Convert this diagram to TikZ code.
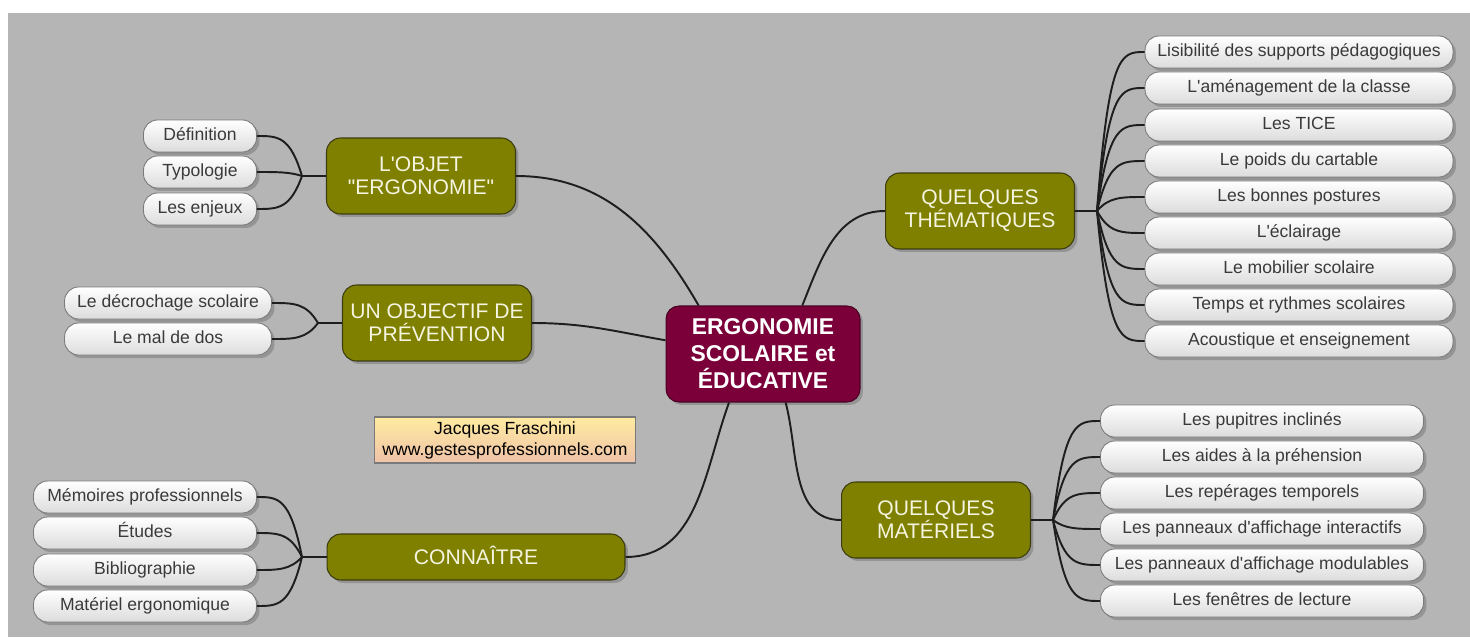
\documentclass[tikz,border=0pt]{standalone}
\usepackage{fontspec}
\setmainfont{Liberation Sans}[Ligatures=TeXOff]
\usepackage{tikz}
\usetikzlibrary{calc,shadows}

\definecolor{bggray}{HTML}{B5B5B5}
\definecolor{maroon}{HTML}{7B003A}
\definecolor{maroonedge}{HTML}{4A0022}
\definecolor{olive}{HTML}{808000}
\definecolor{oliveedge}{HTML}{3C3C10}
\definecolor{cream}{HTML}{F4F4E0}
\definecolor{leafgray}{HTML}{DCDCDC}
\definecolor{leafedge}{HTML}{7A7A7A}
\definecolor{leaftext}{HTML}{3A3A3A}
\definecolor{linkgray}{HTML}{1E1E1E}
\definecolor{notetop}{HTML}{FFEBA0}
\definecolor{notebottom}{HTML}{EFC2A8}

\begin{document}
\begin{tikzpicture}[x=0.02cm,y=0.02cm]
			\tikzstyle{boxshadow} = [drop shadow={shadow xshift=0.06cm,shadow yshift=-0.06cm,fill=black,opacity=0.18}]
			\tikzstyle{mainbox}  = [rectangle,rounded corners=0.26cm,draw=maroonedge,fill=maroon,text=white,line width=0.6pt,
			                        font=\fontsize{13}{15.4}\selectfont\bfseries,align=center,inner sep=0pt,
			                        minimum width=3.88cm,minimum height=1.92cm,boxshadow]
			\tikzstyle{topicbox} = [rectangle,rounded corners=0.28cm,draw=oliveedge,fill=olive,text=cream,line width=0.6pt,
			                        font=\fontsize{12}{13.2}\selectfont,align=center,inner sep=0pt,
			                        minimum width=3.78cm,minimum height=1.52cm,boxshadow]
			\tikzstyle{leafbox}  = [rectangle,rounded corners=0.28cm,draw=leafedge,top color=white,bottom color=leafgray,
			                        text=leaftext,line width=0.5pt,font=\fontsize{10}{12}\selectfont,
			                        text height=7.4pt,text depth=2.2pt,
			                        inner sep=0pt,minimum height=0.64cm,boxshadow]
			\tikzstyle{notebox}  = [rectangle,draw=leafedge,top color=notetop,bottom color=notebottom,line width=0.6pt,
			                        font=\fontsize{10}{12}\selectfont,align=center,inner sep=0pt,
			                        minimum width=5.22cm,minimum height=0.92cm]
			\tikzstyle{link}     = [draw=linkgray,line width=1.1pt]
			\tikzstyle{twigR}    = [link,to path={.. controls ($(\tikztostart |- \tikztotarget)+(12,0)$) and ($(\tikztostart |- \tikztotarget)+(24,0)$) .. (\tikztotarget) \tikztonodes}]
			\tikzstyle{twigL}    = [link,to path={.. controls ($(\tikztostart |- \tikztotarget)+(-12,0)$) and ($(\tikztostart |- \tikztotarget)+(-24,0)$) .. (\tikztotarget) \tikztonodes}]
			
			% background
			\useasboundingbox (0,0) rectangle (1470,637);
			\fill[white] (0,0) rectangle (1470,637);
			\fill[bggray] (8,0) rectangle (1470,624);
			
			\node[mainbox] (erg) at (763,283) {ERGONOMIE\\SCOLAIRE et\\ÉDUCATIVE};
			
			\node[topicbox] (objet) at (421,461) {L'OBJET\\"ERGONOMIE"};
			\node[topicbox] (prev) at (437,314) {UN OBJECTIF DE\\PRÉVENTION};
			\node[topicbox,minimum width=5.96cm,minimum height=0.92cm,text height=8.6pt,text depth=0pt] (conn) at (476,80) {CONNAÎTRE};
			\node[topicbox] (them) at (980,426) {QUELQUES\\THÉMATIQUES};
			\node[topicbox] (mat) at (936,117) {QUELQUES\\MATÉRIELS};
			
			\node[notebox] (credit) at (505,197) {Jacques Fraschini\\www.gestesprofessionnels.com};
			
			\coordinate (jobjet) at (302,461);
			\coordinate (jprev) at (318,314);
			\coordinate (jconn) at (302,80);
			\coordinate (jthem) at (1097,426);
			\coordinate (jmat) at (1053,117);
			
			\node[leafbox,minimum width=2.26cm] (def) at (200,501) {Définition};
			\node[leafbox,minimum width=2.26cm] (typo) at (200,465) {Typologie};
			\node[leafbox,minimum width=2.26cm] (enj) at (200,428) {Les enjeux};
			
			\node[leafbox,minimum width=4.14cm] (decr) at (168,334) {Le décrochage scolaire};
			\node[leafbox,minimum width=4.14cm] (dos) at (168,298) {Le mal de dos};
			
			\node[leafbox,minimum width=4.46cm] (mem) at (145,140) {Mémoires professionnels};
			\node[leafbox,minimum width=4.46cm] (etu) at (145,104) {Études};
			\node[leafbox,minimum width=4.46cm] (bib) at (145,67) {Bibliographie};
			\node[leafbox,minimum width=4.46cm] (matos) at (145,31) {Matériel ergonomique};
			
			\node[leafbox,minimum width=6.16cm] (them1) at (1299,585) {Lisibilité des supports pédagogiques};
			\node[leafbox,minimum width=6.16cm] (them2) at (1299,549) {L'aménagement de la classe};
			\node[leafbox,minimum width=6.16cm] (them3) at (1299,512) {Les TICE};
			\node[leafbox,minimum width=6.16cm] (them4) at (1299,476) {Le poids du cartable};
			\node[leafbox,minimum width=6.16cm] (them5) at (1299,440) {Les bonnes postures};
			\node[leafbox,minimum width=6.16cm] (them6) at (1299,404) {L'éclairage};
			\node[leafbox,minimum width=6.16cm] (them7) at (1299,368) {Le mobilier scolaire};
			\node[leafbox,minimum width=6.16cm] (them8) at (1299,332) {Temps et rythmes scolaires};
			\node[leafbox,minimum width=6.16cm] (them9) at (1299,296) {Acoustique et enseignement};
			
			\node[leafbox,minimum width=6.46cm] (mat1) at (1262,216) {Les pupitres inclinés};
			\node[leafbox,minimum width=6.46cm] (mat2) at (1262,180) {Les aides à la préhension};
			\node[leafbox,minimum width=6.46cm] (mat3) at (1262,144) {Les repérages temporels};
			\node[leafbox,minimum width=6.46cm] (mat4) at (1262,108) {Les panneaux d'affichage interactifs};
			\node[leafbox,minimum width=6.46cm] (mat5) at (1262,72) {Les panneaux d'affichage modulables};
			\node[leafbox,minimum width=6.46cm] (mat6) at (1262,36) {Les fenêtres de lecture};
			
			% from the centre
			\path (erg.143) edge[link,out=120,in=0] (objet.east);
			\path (erg.172) edge[link,out=170,in=0] (prev.east);
			\path (erg.235) edge[link,out=250,in=0] (conn.east);
			\path (erg.51) edge[link,out=68,in=180] (them.west);
			\path (erg.295) edge[link,out=285,in=180] (mat.west);
			
			% to the leaves
			\path (objet) edge[link] (jobjet);
			\path (jobjet) edge[twigL] (def);
			\path (jobjet) edge[twigL] (typo);
			\path (jobjet) edge[twigL] (enj);
			
			\path (prev) edge[link] (jprev);
			\path (jprev) edge[twigL] (decr);
			\path (jprev) edge[twigL] (dos);
			
			\path (conn) edge[link] (jconn);
			\path (jconn) edge[twigL] (mem);
			\path (jconn) edge[twigL] (etu);
			\path (jconn) edge[twigL] (bib);
			\path (jconn) edge[twigL] (matos);
			
			\path (them) edge[link] (jthem);
			\path (jthem) edge[twigR] (them1);
			\path (jthem) edge[twigR] (them2);
			\path (jthem) edge[twigR] (them3);
			\path (jthem) edge[twigR] (them4);
			\path (jthem) edge[twigR] (them5);
			\path (jthem) edge[twigR] (them6);
			\path (jthem) edge[twigR] (them7);
			\path (jthem) edge[twigR] (them8);
			\path (jthem) edge[twigR] (them9);
			
			\path (mat) edge[link] (jmat);
			\path (jmat) edge[twigR] (mat1);
			\path (jmat) edge[twigR] (mat2);
			\path (jmat) edge[twigR] (mat3);
			\path (jmat) edge[twigR] (mat4);
			\path (jmat) edge[twigR] (mat5);
			\path (jmat) edge[twigR] (mat6);
		\end{tikzpicture}
\end{document}
